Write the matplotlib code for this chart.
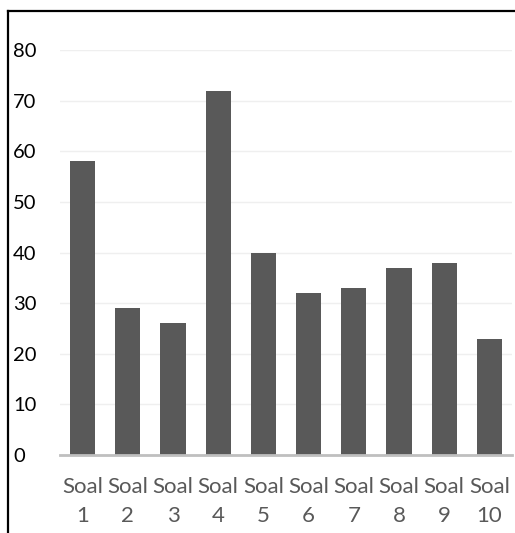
import matplotlib
matplotlib.use("Agg")
import matplotlib.pyplot as plt
from matplotlib.lines import Line2D

categories = ["Soal\n1", "Soal\n2", "Soal\n3", "Soal\n4", "Soal\n5",
              "Soal\n6", "Soal\n7", "Soal\n8", "Soal\n9", "Soal\n10"]
values = [58, 29, 26, 72, 40, 32, 33, 37, 38, 23]
yticks = [0, 10, 20, 30, 40, 50, 60, 70, 80]

plt.rcParams['font.family'] = ['Lato', 'DejaVu Sans']

fig = plt.figure(figsize=(5.15, 5.33), dpi=100)
ax = fig.add_axes([60/515, 1-455/533, (512-60)/515, (455-50)/533])

x = list(range(len(values)))
ax.bar(x, values, width=0.56, color='#595959', zorder=3)
ax.set_xlim(-0.5, len(values)-0.5)
ax.set_ylim(0, 80)
ax.set_yticks(yticks)
ax.set_yticklabels([str(v) for v in yticks], fontsize=14.5, color='#000000', ha='left')
ax.tick_params(axis='y', length=0, pad=33.8)
ax.set_xticks(x)
ax.set_xticklabels(categories, fontsize=16, color='#595959', linespacing=1.56)
ax.tick_params(axis='x', length=0, pad=16)
ax.grid(axis='y', color='#efefef', linewidth=1, zorder=0)
for s in ['top', 'right', 'left']:
    ax.spines[s].set_visible(False)
ax.spines['bottom'].set_color('#bfbfbf')
ax.spines['bottom'].set_linewidth(2)
ax.spines['bottom'].set_zorder(4)

# outer frame (left and top)
fig.add_artist(Line2D([8/515, 8/515], [0, 1-11/533], color='black', linewidth=1.6, transform=fig.transFigure))
fig.add_artist(Line2D([8/515, 1], [1-11/533, 1-11/533], color='black', linewidth=1.6, transform=fig.transFigure))

fig.savefig("out.png", dpi=100)
